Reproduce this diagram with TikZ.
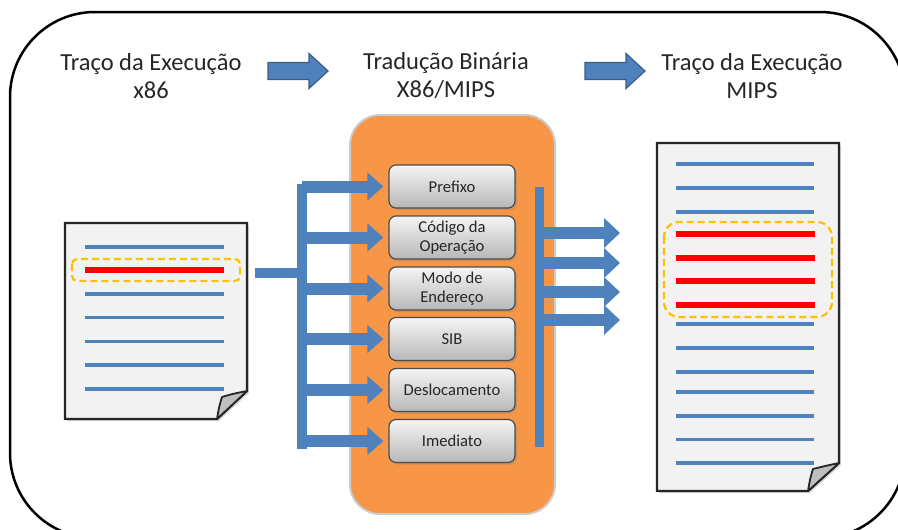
\documentclass[tikz,border=0pt]{standalone}
\usepackage{fontspec}
\setmainfont{Carlito}
\usetikzlibrary{arrows.meta,shadows}
\definecolor{ablue}{HTML}{4F81BD}
\definecolor{ablueedge}{HTML}{385D8A}
\definecolor{aorange}{HTML}{F79646}
\definecolor{agold}{HTML}{FFC000}
\definecolor{ared}{HTML}{FF0000}
\definecolor{apaper}{HTML}{F2F2F2}
\definecolor{atext}{HTML}{262626}
\tikzset{
  frame/.style={draw=black,line width=2.5pt,rounded corners=85pt},
  title/.style={align=center,text=atext,font=\fontsize{24.5}{28}\selectfont,inner sep=0pt},
  titlearrow/.style={draw=ablueedge,fill=ablue,line width=1.2pt,line join=miter},
  bigarrow/.pic={\draw[titlearrow] (0,-8.5) -- (41,-8.5) -- (41,-17.5) -- (60,0)
                   -- (41,17.5) -- (41,8.5) -- (0,8.5) -- cycle;},
  stage/.style={draw=white!80!black,line width=2pt,fill=aorange,rounded corners=30pt},
  field/.style={draw=black!70,line width=1.2pt,rounded corners=7pt,
                top color=white!96!black,bottom color=white!72!black,
                minimum width=126pt,minimum height=43pt,align=center,inner sep=1pt,
                text=atext,font=\fontsize{16.6}{19}\selectfont,
                drop shadow={opacity=.35,shadow xshift=2pt,shadow yshift=-2pt}},
  bar/.style={draw=ablue,line width=10pt},
  feed/.style={draw=ablue,line width=12pt,-{Triangle[length=16pt,width=27pt]}},
  paper/.style={draw=black!85,line width=2.2pt,fill=apaper,line join=miter,
                drop shadow={opacity=.3,shadow xshift=2pt,shadow yshift=-2pt}},
  flap/.style={draw=black!85,line width=1.8pt,fill=white!75!black,line join=round},
  textline/.style={draw=ablue,line width=3.5pt},
  hotline/.style={draw=ared,line width=6pt},
  marker/.style={draw=agold,line width=2.2pt,dash pattern=on 7pt off 4pt}
}
\begin{document}
\begin{tikzpicture}[x=1pt,y=-1pt]
\useasboundingbox (0,0) rectangle (898,530);
\clip (0,0) rectangle (898,530);

% outer frame
\draw[frame] (10,12) rectangle (905,538);

% stage titles
\node[title] (t1) at (151,76) {Traço da Execução\\x86};
\node[title] (t2) at (446,76) {Tradução Binária\\X86/MIPS};
\node[title] (t3) at (752,76) {Traço da Execução\\MIPS};
\pic at (268,71) {bigarrow};
\pic at (585,71) {bigarrow};

% translation stage
\draw[stage] (350,115) rectangle (555,514);
\node[field] (prefixo)  at (452,186.5) {Prefixo};
\node[field] (codigo)   at (452,237.5) {Código da\\Operação};
\node[field] (modo)     at (452,288.5) {Modo de\\Endereço};
\node[field] (sib)      at (452,339)   {SIB};
\node[field] (desloc)   at (452,390)   {Deslocamento};
\node[field] (imediato) at (452,441)   {Imediato};

% x86 trace document
\draw[paper] (65,223) -- (247,223) -- (247,391) -- (217,419) -- (65,419) -- cycle;
\draw[flap] (247,391) .. controls (232,394) .. (222,397) .. controls (219,407) .. (217,419) -- cycle;
\foreach \yy in {247,294,317.5,341.5,365,389}
  \draw[textline] (85,\yy) -- (224,\yy);
\draw[hotline] (85,270) -- (224,270);
\draw[marker,rounded corners=5pt] (72,259) rectangle (240,281);

% MIPS trace document
\draw[paper] (657,143) -- (839,143) -- (839,463) -- (808,491) -- (657,491) -- cycle;
\draw[flap] (839,463) .. controls (825,466) .. (813,469) .. controls (810,479) .. (808,491) -- cycle;
\foreach \yy in {164,188,212,324,348,372,392,416,439.5,463}
  \draw[textline] (676,\yy) -- (814,\yy);
\foreach \yy in {234,258,281,305}
  \draw[hotline] (676,\yy) -- (815,\yy);
\draw[marker,rounded corners=15pt] (664,222) rectangle (832,317);

% distribution into the fields
\coordinate (src)  at (255,273);
\coordinate (ltop) at (302,184);
\coordinate (lbot) at (302,449);
\draw[bar] (ltop) -- (lbot);
\draw[bar] (src) -- (src -| ltop);
\foreach \f in {prefixo,codigo,modo,sib,desloc,imediato}
  \draw[feed,shorten >=5pt] (ltop |- \f.west) -- (\f.west);

% collection towards the MIPS trace
\coordinate (rtop) at (539,187);
\coordinate (rbot) at (539,447);
\draw[draw=ablue,line width=9pt] (rtop) -- (rbot);
\coordinate (o1) at (620,233);
\coordinate (o2) at (620,263);
\coordinate (o3) at (620,292);
\coordinate (o4) at (620,320);
\foreach \o in {o1,o2,o3,o4}
  \draw[feed,-{Triangle[length=16pt,width=29pt]}] (rtop |- \o) -- (\o);
\end{tikzpicture}
\end{document}
